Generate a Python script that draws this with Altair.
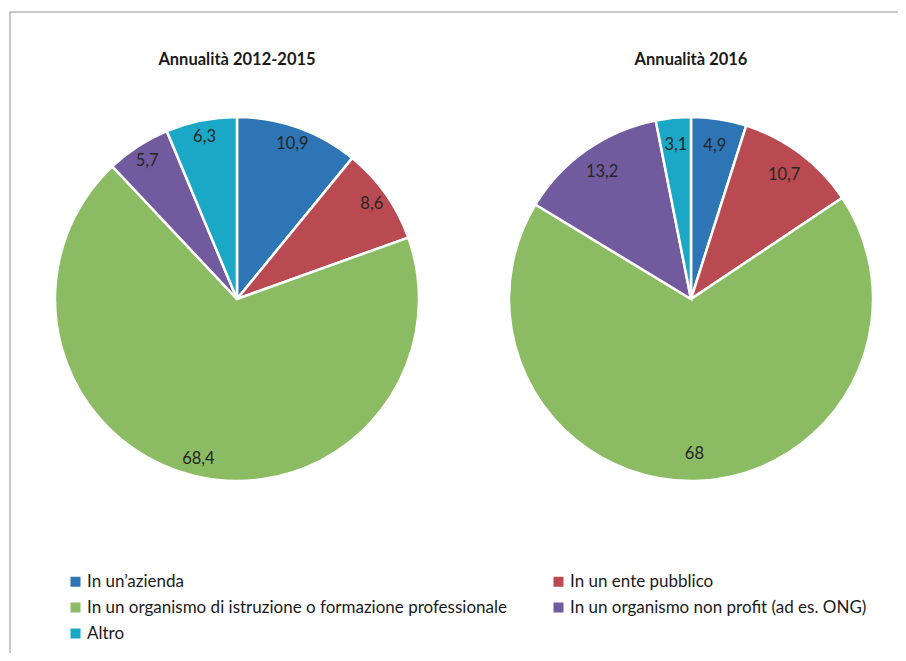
import altair as alt
import pandas as pd

categories = [
    "In un’azienda",
    "In un ente pubblico",
    "In un organismo di istruzione o formazione professionale",
    "In un organismo non profit (ad es. ONG)",
    "Altro",
]
values_2012_2015 = [10.9, 8.6, 68.4, 5.7, 6.3]
values_2016 = [4.9, 10.7, 68.0, 13.2, 3.1]
pie_titles = ["Annualità 2012-2015", "Annualità 2016"]
colors = ["#2E75B6", "#BA4A51", "#8BBB62", "#715B9E", "#1BA8C7"]
# legend reading order (column-major fill of a 2-column legend)
legend_order = [0, 2, 4, 1, 3]

rows = []
for pie, vals in zip(pie_titles, [values_2012_2015, values_2016]):
    for i, (c, v) in enumerate(zip(categories, vals)):
        rows.append({"pie": pie, "cat": c, "ord": i, "value": v})
df = pd.DataFrame(rows)
titles_df = pd.DataFrame({"pie": pie_titles})
frame_df = pd.DataFrame({"k": [0]})

FONT = "Lato"
dom = [categories[i] for i in legend_order]
rng = [colors[i] for i in legend_order]
color = alt.Color(
    "cat:N",
    scale=alt.Scale(domain=dom, range=rng),
    sort=dom,
    legend=alt.Legend(
        title=None,
        orient="none",
        legendX=59,
        legendY=565,
        columns=2,
        columnPadding=43,
        rowPadding=8,
        symbolType="square",
        symbolSize=100,
        symbolStrokeWidth=0,
        labelFontSize=17,
        labelFont=FONT,
        labelColor="#1a1a1a",
        labelLimit=700,
        labelOffset=3,
    ),
)

layers = []
centers = [(229, 291, 165), (683, 291, 155)]
for pie, (cx, cy, lr) in zip(pie_titles, centers):
    base = alt.Chart(df).transform_filter(alt.datum.pie == pie).transform_calculate(
        lbl="replace(toString(datum.value), '.', ',')"
    ).encode(
        theta=alt.Theta("value:Q", stack=True),
        order=alt.Order("ord:Q"),
        x=alt.value(cx),
        y=alt.value(cy),
    )
    arc = base.mark_arc(outerRadius=182, stroke="white", strokeWidth=2.5).encode(color=color)
    txt = base.mark_text(radius=lr, font=FONT, fontSize=16.5, color="#262626").encode(text="lbl:N")
    ttl = alt.Chart(titles_df).transform_filter(alt.datum.pie == pie).mark_text(
        font=FONT, fontSize=16.5, fontWeight="bold", color="#1a1a1a"
    ).encode(text="pie:N", x=alt.value(cx), y=alt.value(52))
    layers += [arc, txt, ttl]

top_rule = alt.Chart(frame_df).mark_rule(color="#b5b5b5", strokeWidth=1.5).encode(
    x=alt.value(2), x2=alt.value(898), y=alt.value(4)
)
left_rule = alt.Chart(frame_df).mark_rule(color="#b5b5b5", strokeWidth=1.5).encode(
    x=alt.value(2), y=alt.value(4), y2=alt.value(660)
)

chart = alt.layer(top_rule, left_rule, *layers).properties(
    width=890, height=645, autosize=alt.AutoSizeParams(type="none"), padding=0
).configure_view(stroke=None)

chart.save("out.html", embed_options={"renderer": "svg", "actions": False})
